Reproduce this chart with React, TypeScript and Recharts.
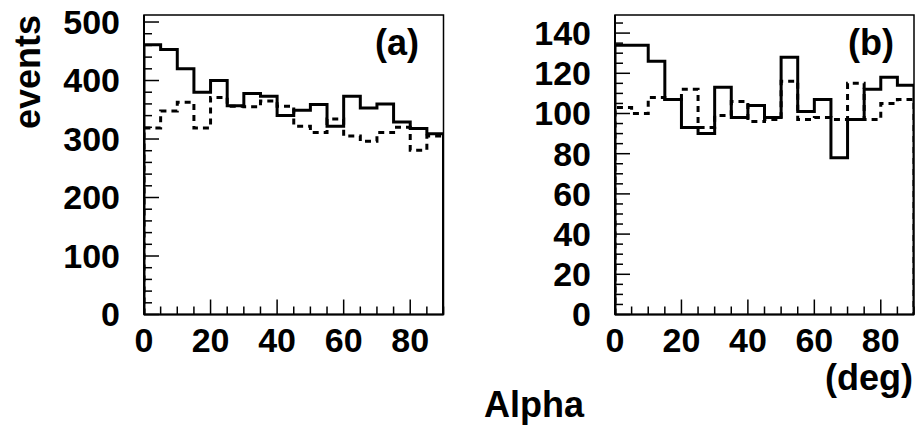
import React from "react";
import { LineChart, Line, XAxis, YAxis, ReferenceArea } from "recharts";

// 18 bins of 5 deg each, value = events in bin
const binEdges = [0, 5, 10, 15, 20, 25, 30, 35, 40, 45, 50, 55, 60, 65, 70, 75, 80, 85];
const aSolid = [461, 453, 420, 380, 400, 357, 378, 373, 340, 349, 359, 322, 373, 353, 360, 329, 318, 309];
const aDashed = [319, 348, 363, 319, 371, 356, 355, 365, 356, 322, 311, 334, 305, 296, 311, 320, 281, 305];
const bSolid = [134, 134, 126, 107, 93, 90, 113, 98, 104, 98, 128, 101, 107, 78, 97, 112, 118, 114];
const bDashed = [103, 100, 108, 107, 112, 93, 99, 106, 96, 97, 116, 97, 98, 97, 115, 97, 105, 107];

const xTicks = [0, 5, 10, 15, 20, 25, 30, 35, 40, 45, 50, 55, 60, 65, 70, 75, 80, 85, 90];
const aYTicks = [0, 20, 40, 60, 80, 100, 120, 140, 160, 180, 200, 220, 240, 260, 280, 300, 320, 340, 360, 380, 400, 420, 440, 460, 480, 500];
const bYTicks = [0, 5, 10, 15, 20, 25, 30, 35, 40, 45, 50, 55, 60, 65, 70, 75, 80, 85, 90, 95, 100, 105, 110, 115, 120, 125, 130, 135, 140, 145];

const FONT = "'Liberation Sans', Arial, Helvetica, sans-serif";
const X_MAX = 90;

// histogram outline: rises from 0 at the left edge, drops to 0 at the right edge
function histRows(solid: number[], dashed: number[]) {
  const last = solid.length - 1;
  return [
    { x: binEdges[0], solid: 0, dashed: 0 },
    ...binEdges.map((e, i) => ({ x: e, solid: solid[i], dashed: dashed[i] })),
    { x: X_MAX, solid: solid[last], dashed: dashed[last] },
    { x: X_MAX, solid: 0, dashed: 0 },
  ];
}

function XTick(props: any) {
  const { x, y, payload } = props;
  const major = payload.value % 20 === 0;
  return (
    <g>
      <line x1={x} y1={y} x2={x} y2={y - (major ? 15 : 8)} stroke="#000" strokeWidth={1.5} />
      {major && payload.value < X_MAX && (
        <text x={x} y={y + 26} dy="0.35em" textAnchor="middle" fontFamily={FONT} fontWeight="bold" fontSize={34} fill="#000">
          {payload.value}
        </text>
      )}
    </g>
  );
}

function makeYTick(majorStep: number) {
  return function YTick(props: any) {
    const { x, y, payload } = props;
    const major = payload.value % majorStep === 0;
    return (
      <g>
        <line x1={x} y1={y} x2={x + (major ? 15 : 8)} y2={y} stroke="#000" strokeWidth={1.5} />
        {major && (
          <text x={x - 24} y={y} dy="0.35em" textAnchor="end" fontFamily={FONT} fontWeight="bold" fontSize={34} fill="#000">
            {payload.value}
          </text>
        )}
      </g>
    );
  };
}

function Panel(props: {
  solid: number[];
  dashed: number[];
  yMax: number;
  yTicks: number[];
  majorStep: number;
  label: string;
  width: number;
  yAxisWidth: number;
  marginRight: number;
}) {
  const { solid, dashed, yMax, yTicks, majorStep, label, width, yAxisWidth, marginRight } = props;
  const rows = histRows(solid, dashed);
  const YTick = makeYTick(majorStep);
  return (
    <LineChart width={width} height={437} data={rows} margin={{ top: 15, right: marginRight, bottom: 62.5, left: 0 }}>
      <XAxis
        dataKey="x"
        type="number"
        domain={[0, X_MAX]}
        ticks={xTicks}
        interval={0}
        allowDataOverflow
        height={60}
        tickSize={0}
        tickMargin={0}
        tickLine={false}
        axisLine={{ stroke: "#000", strokeWidth: 2 }}
        tick={<XTick />}
      />
      <YAxis
        type="number"
        domain={[0, yMax]}
        ticks={yTicks}
        interval={0}
        allowDataOverflow
        width={yAxisWidth}
        tickSize={0}
        tickMargin={0}
        tickLine={false}
        axisLine={{ stroke: "#000", strokeWidth: 2 }}
        tick={<YTick />}
      />
      <ReferenceArea x1={0} x2={X_MAX} y1={0} y2={yMax} fill="none" stroke="#000" strokeWidth={1.5} fillOpacity={0} />
      <Line
        type="stepAfter"
        dataKey="dashed"
        stroke="#000"
        strokeWidth={3}
        strokeDasharray="6 5"
        strokeLinejoin="miter"
        dot={false}
        activeDot={false}
        isAnimationActive={false}
      />
      <Line
        type="stepAfter"
        dataKey="solid"
        stroke="#000"
        strokeWidth={3}
        strokeLinejoin="miter"
        dot={false}
        activeDot={false}
        isAnimationActive={false}
      />
    </LineChart>
  );
}

const textStyle: React.CSSProperties = {
  position: "absolute",
  fontFamily: FONT,
  fontWeight: "bold",
  fontSize: 36,
  color: "#000",
  whiteSpace: "nowrap",
  lineHeight: 1,
};

export default function App() {
  return (
    <div style={{ position: "absolute", left: 0, top: 0, width: 915, height: 437, background: "#fff", overflow: "hidden" }}>
      <div style={{ position: "absolute", left: 0, top: 0 }}>
        <Panel solid={aSolid} dashed={aDashed} yMax={512} yTicks={aYTicks} majorStep={100} label="(a)" width={460} yAxisWidth={144} marginRight={16.5} />
      </div>
      <div style={{ position: "absolute", left: 470, top: 0 }}>
        <Panel solid={bSolid} dashed={bDashed} yMax={149} yTicks={bYTicks} majorStep={20} label="(b)" width={445} yAxisWidth={145} marginRight={1} />
      </div>
      <div style={{ ...textStyle, left: 397, top: 43, transform: "translate(-50%, -50%)" }}>(a)</div>
      <div style={{ ...textStyle, left: 871, top: 43, transform: "translate(-50%, -50%)" }}>(b)</div>
      <div style={{ ...textStyle, left: 28, top: 72, transform: "translate(-50%, -50%) rotate(-90deg)" }}>events</div>
      <div style={{ ...textStyle, left: 534, top: 405, transform: "translate(-50%, -50%)" }}>Alpha</div>
      <div style={{ ...textStyle, left: 869, top: 378, transform: "translate(-50%, -50%)" }}>(deg)</div>
    </div>
  );
}
